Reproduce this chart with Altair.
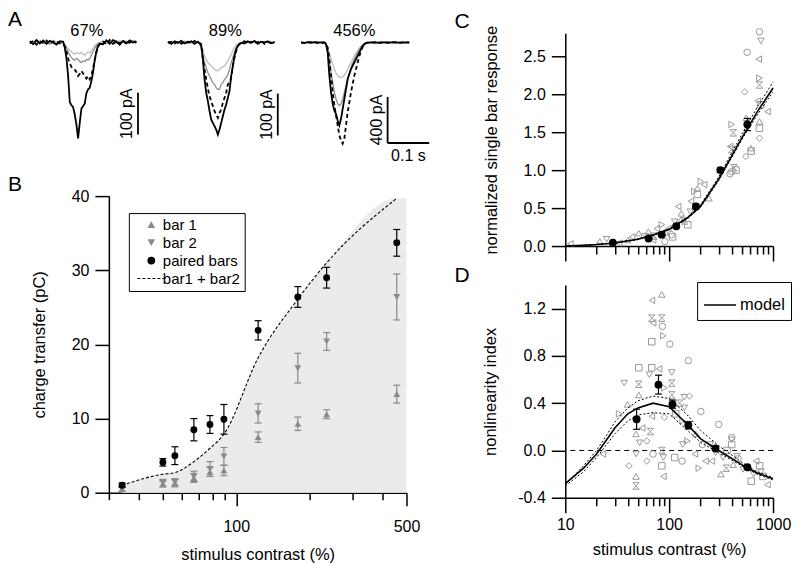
import altair as alt
import pandas as pd

FONT = "Liberation Sans"
LIGHT = "#bdbdbd"
MID = "#8f8f8f"
TRI = "#8a8a8a"
SCAT = "#9a9a9a"
FILLC = "#ebebeb"

# ================= Panel A : example traces (pA, inward negative) =================
A_labels = ["67%", "89%", "456%"]
A_bar_pA = [100, 100, 400]

A1_t = [0, 8, 16, 24, 32, 40, 48, 56, 64, 72, 80, 84, 88, 92, 96, 100, 104, 108, 112, 116, 120, 124,
        128, 132, 136, 140, 144, 148, 152, 156, 160, 164, 168, 176, 184, 192, 200, 208, 216, 224, 232,
        240, 248, 256]
A1_pair = [3, -4, 6, -2, 5, -3, 4, 0, -5, 3, 2, -12, -37, -79, -142, -150, -154, -172, -196, -229, -192,
           -158, -152, -146, -121, -112, -108, -92, -71, -42, -21, -8, -3, -4, 5, -3, 6, 2, -5, 4, -2, 5, 0, 3]
A1_sum = [-2, 4, -5, 3, -1, 5, -3, 2, 4, -2, -4, -8, -20, -38, -50, -58, -62, -65, -70, -80, -75, -68,
          -74, -80, -86, -80, -88, -78, -62, -42, -24, -10, -4, 2, -4, 6, -3, 3, -2, 5, -4, 1, 4, -1]
A1_bar1 = [1, 3, -2, 4, 0, -3, 2, 5, -1, 2, -2, -4, -10, -14, -18, -22, -26, -28, -24, -26, -27, -24,
           -28, -30, -26, -22, -25, -20, -14, -8, -4, -2, 0, 3, -2, 4, 1, -3, 5, 2, -1, 4, 0, 2]
A1_bar2 = [-1, 2, 4, -3, 2, 1, -4, 3, 0, -2, 3, -6, -14, -22, -30, -36, -40, -42, -38, -40, -45, -48,
           -44, -46, -40, -42, -38, -30, -22, -14, -8, -3, -1, -3, 3, 1, -4, 4, -1, 2, 3, -2, 5, 1]

A2_t = [0, 8, 16, 24, 32, 40, 48, 56, 64, 72, 76, 80, 84, 88, 92, 96, 100, 104, 108, 112, 116, 120, 124,
        128, 132, 136, 140, 144, 148, 152, 156, 160, 164, 168, 172, 176, 184, 192, 200, 208, 216, 224,
        232, 240, 248, 256]
A2_pair = [2, -3, 3, -1, 4, -2, 1, 3, -3, 2, -2, -8, -40, -88, -120, -140, -164, -184, -192, -200, -208,
           -220, -208, -192, -176, -160, -148, -132, -116, -80, -56, -32, -16, -8, -4, -1,
           -2, 3, -1, 4, -3, 2, 0, 3, -2, 1]
A2_sum = [-1, 2, -2, 3, -3, 1, 2, -2, 4, -1, -1, -4, -40, -64, -88, -110, -128, -140, -152, -164, -172,
          -180, -168, -160, -144, -132, -120, -100, -96, -84, -56, -36, -20, -8, -3, 0,
          3, -2, 2, -1, 1, 4, -3, 2, -1, 2]
A2_bar1 = [0, 2, -2, 1, 3, -1, 2, -2, 1, 0, 0, -8, -16, -32, -40, -48, -52, -56, -60, -64, -66, -68, -64,
           -60, -58, -56, -50, -44, -36, -28, -20, -12, -6, -3, -1, 0,
           1, -1, 2, 0, -2, 1, 3, -1, 0, 2]
A2_bar2 = [1, -2, 2, 0, -1, 3, -2, 1, 2, -1, -2, -12, -30, -48, -60, -72, -80, -88, -96, -100, -108, -112,
           -112, -100, -96, -88, -84, -76, -64, -48, -36, -24, -14, -8, -3, -1,
           -1, 2, 0, 3, -2, 1, -1, 2, 1, -2]

A3_t = [0, 8, 16, 24, 32, 40, 48, 56, 60, 64, 68, 72, 76, 80, 84, 88, 92, 96, 100, 104, 108, 112, 116,
        120, 124, 128, 132, 136, 140, 144, 148, 152, 156, 160, 164, 172, 180, 188, 196, 204, 212, 220,
        228, 236, 244, 252, 260]
A3_pair = [0, -4, 3, -2, 4, -3, 1, -2, -16, -95, -317, -476, -586, -650, -682, -745, -792, -729, -634,
           -539, -444, -349, -301, -254, -222, -190, -159, -127, -95, -63, -38, -16, -6, 0, 0,
           2, 0, -3, 1, 2, -1, 3, 0, -2, 1, 0, 2]
A3_sum = [2, -3, 0, 3, -2, 1, -3, 0, -6, -48, -159, -317, -476, -602, -697, -792, -888, -935, -967, -919,
          -792, -666, -571, -476, -396, -317, -254, -190, -133, -79, -41, -16, -6, 0, 0,
          0, 3, -1, 2, -2, 0, 1, 3, -1, 0, 2, -1]
A3_bar1 = [-2, 1, 3, -1, 0, 2, -1, 1, -6, -48, -95, -159, -206, -254, -292, -317, -333, -333, -327, -311,
           -285, -254, -222, -190, -159, -127, -101, -79, -57, -38, -22, -10, -3, 0, 0,
           1, -2, 2, 0, 1, -1, 0, 2, 1, -1, 0, 1]
A3_bar2 = [1, -2, 2, 0, -3, 1, 2, -1, -16, -79, -174, -285, -380, -476, -539, -586, -602, -586, -539,
           -476, -412, -349, -292, -238, -197, -159, -127, -95, -63, -41, -22, -10, -3, 0, 0,
           -1, 2, 0, -2, 1, 3, -1, 0, 2, -2, 1, 0]

# ================= Panel B : charge transfer =================
B_contrast = [34, 50, 56, 67, 78, 89, 123, 179, 235, 456]
B_pair = [1.0, 4.1, 5.0, 8.5, 9.2, 9.9, 21.9, 26.4, 29.0, 33.7]
B_pair_err = [0.3, 0.5, 1.2, 1.5, 1.2, 2.0, 1.3, 1.4, 1.4, 1.8]
B_bar1 = [0.5, 1.2, 1.3, 2.0, 2.8, 3.0, 7.5, 9.3, 10.6, 13.3]
B_bar1_err = [0.3, 0.4, 0.5, 0.6, 0.6, 0.7, 0.7, 0.9, 0.6, 1.2]
B_bar2 = [0.5, 1.3, 1.4, 2.2, 3.2, 4.9, 10.7, 16.8, 20.4, 26.4]
B_bar2_err = [0.3, 0.5, 0.5, 0.7, 1.0, 1.2, 1.3, 2.0, 1.2, 3.1]
B_series = ["bar 1", "bar 2", "paired bars", "bar1 + bar2"]
B_xticks = [30, 40, 50, 60, 70, 80, 90, 100, 200, 300, 400, 500]
B_yticks = [0, 10, 20, 30, 40]

# ================= Panel C : normalized single bar response =================
C_mean_x = [28.7, 63.4, 84.8, 117, 181, 311, 566]
C_mean_y = [0.044, 0.10, 0.15, 0.26, 0.52, 1.00, 1.60]
C_mean_err = [0.01, 0.015, 0.02, 0.02, 0.03, 0.03, 0.08]
C_fit_x = [10, 15, 20, 30, 50, 70, 100, 150, 200, 300, 500, 700, 1000]
C_fit = [0.0, 0.01, 0.02, 0.04, 0.09, 0.145, 0.22, 0.37, 0.52, 0.88, 1.42, 1.76, 2.08]
C_fit_hi = [0.0, 0.01, 0.02, 0.045, 0.095, 0.15, 0.23, 0.38, 0.54, 0.91, 1.47, 1.82, 2.16]
C_fit_lo = [0.0, 0.01, 0.02, 0.04, 0.085, 0.14, 0.215, 0.36, 0.51, 0.86, 1.40, 1.72, 2.03]
C_cell_x = [740, 766, 563, 729, 740, 740, 534, 714, 760, 885, 740, 740, 740, 400, 415, 553, 386, 400, 612,
            616, 546, 400, 440, 420, 385, 187, 217, 175, 242, 162, 187, 202, 122, 131, 113, 151, 141, 98,
            105, 85, 108, 51, 44, 63, 71, 76, 59, 40, 21.5, 25, 33, 91, 11.2, 160, 130, 92, 70]
C_cell_y = [2.82, 2.70, 2.55, 2.46, 2.21, 2.12, 2.03, 1.91, 1.86, 1.77, 1.64, 1.55, 1.42, 1.60, 1.49, 1.69,
            1.31, 1.27, 1.29, 1.25, 1.18, 0.98, 1.00, 1.03, 0.95, 0.76, 0.81, 0.72, 0.63, 0.59, 0.68, 0.85,
            0.52, 0.43, 0.32, 0.28, 0.33, 0.23, 0.15, 0.28, 0.12, 0.17, 0.12, 0.19, 0.13, 0.23, 0.13, 0.08,
            0.06, 0.09, 0.04, 0.06, 0.03, 0.45, 0.35, 0.18, 0.08]
C_cell_id = [1, 4, 1, 5, 6, 8, 7, 5, 2, 5, 3, 2, 7, 6, 8, 3, 5, 8, 3, 2, 7, 1, 2, 8, 1, 3, 5, 6, 3, 5, 2, 6,
             5, 3, 4, 2, 8, 5, 1, 6, 2, 3, 5, 3, 8, 5, 4, 3, 3, 4, 5, 1, 5, 4, 3, 3, 5]

# ================= Panel D : nonlinearity index =================
D_mean_x = [48.6, 78.9, 107.6, 153, 279, 566]
D_mean_y = [0.264, 0.557, 0.392, 0.213, 0.017, -0.142]
D_mean_err = [0.085, 0.08, 0.035, 0.03, 0.015, 0.015]
D_fit_x = [10, 15, 20, 25, 30, 40, 50, 70, 100, 150, 200, 300, 500, 700, 1000]
D_fit = [-0.28, -0.15, -0.03, 0.09, 0.19, 0.31, 0.36, 0.40, 0.37, 0.22, 0.10, 0.0, -0.12, -0.19, -0.24]
D_fit_hi = [-0.29, -0.13, 0.0, 0.13, 0.24, 0.36, 0.42, 0.46, 0.44, 0.30, 0.17, 0.04, -0.10, -0.18, -0.23]
D_fit_lo = [-0.30, -0.18, -0.06, 0.05, 0.14, 0.25, 0.30, 0.32, 0.31, 0.17, 0.07, -0.02, -0.13, -0.20, -0.25]
D_cell_x = [84.8, 68.2, 68, 84.8, 70, 86, 88, 101.6, 68, 153, 51, 68, 80, 64.5, 106, 36.9, 51, 106, 51, 90,
            106, 140, 157, 126, 140, 39.7, 33, 68, 90, 116, 202, 55, 66, 48, 135, 135, 181, 150, 209, 300,
            400, 400, 52, 61, 48, 85, 88, 70, 41, 48, 61, 85, 88, 113, 133, 193, 177, 224, 258, 330,
            355, 315, 414, 400, 462, 574, 617, 766, 885, 687, 48, 23, 515, 743, 250, 280, 360, 450, 650, 800]
D_cell_y = [1.32, 1.27, 1.12, 1.12, 1.08, 1.05, 0.97, 0.90, 0.92, 0.76, 0.70, 0.70, 0.69, 0.64, 0.66, 0.57,
            0.56, 0.57, 0.47, 0.53, 0.47, 0.45, 0.46, 0.40, 0.36, 0.39, 0.31, 0.29, 0.28, 0.31, 0.33, 0.19,
            0.16, 0.14, 0.25, 0.05, 0.14, 0.08, 0.05, 0.22, 0.11, 0.05, 0.065, 0.08, -0.03, 0.0, -0.06, -0.03,
            -0.13, -0.22, -0.09, -0.13, -0.22, -0.06, -0.09, -0.15, -0.03, -0.09, -0.09, -0.06, -0.15, -0.20,
            -0.12, 0.09, -0.07, -0.15, -0.26, -0.18, -0.29, -0.09, -0.30, -0.03, -0.16, -0.13, 0.05, -0.02,
            0.0, -0.05, -0.20, -0.22]
D_cell_id = [3, 5, 8, 8, 5, 1, 6, 1, 2, 1, 2, 2, 5, 4, 4, 4, 8, 8, 3, 6, 8, 4, 7, 8, 4, 3, 6, 5, 7, 2, 1, 5,
             8, 3, 6, 4, 3, 6, 1, 1, 1, 2, 4, 7, 4, 8, 4, 1, 7, 3, 7, 2, 5, 2, 1, 6, 5, 5, 5, 4, 8, 3, 3, 4,
             1, 7, 2, 4, 5, 5, 8, 5, 4, 2, 4, 4, 2, 4, 4, 2]
CD_xticks = [10, 20, 30, 40, 50, 60, 70, 80, 90, 100, 200, 300, 400, 500, 600, 700, 800, 900, 1000]

CELL_IDS = [1, 2, 3, 4, 5, 6, 7, 8]
CELL_SHAPES = ["circle", "square", "triangle-up", "triangle-down", "triangle-left", "triangle-right",
               "diamond", "M-1,-1L1,-1L-1,1L1,1Z"]
# legend glyph for the dashed "bar1 + bar2" entry (dash pieces as filled bars)
DASH_GLYPH = ("M-3.6,-0.13H-2.83V0.13H-3.6Z M-2.31,-0.13H-1.54V0.13H-2.31Z M-1.02,-0.13H-0.25V0.13H-1.02Z "
              "M0.27,-0.13H1.04V0.13H0.27Z M1.56,-0.13H2.33V0.13H1.56Z M2.85,-0.13H3.6V0.13H2.85Z")
HYPHEN_1F = "datum.value < 0 ? '-' + format(-datum.value, '.1f') : format(datum.value, '.1f')"


def letter(txt, dx, offset):
    return alt.TitleParams(txt, anchor="start", frame="group", dx=dx, offset=offset, fontSize=21,
                           font=FONT, fontWeight="normal", color="black")


# ---------------- build A ----------------
def build_A():
    offs = [0, 332, 652]
    groups = [(A1_t, A1_bar1, A1_bar2, A1_sum, A1_pair),
              (A2_t, A2_bar1, A2_bar2, A2_sum, A2_pair),
              (A3_t, A3_bar1, A3_bar2, A3_sum, A3_pair)]
    rows = []
    for g, (t, b1, b2, s, p) in enumerate(groups):
        k = 100.0 / A_bar_pA[g]
        for name, vals in (("bar 1", b1), ("bar 2", b2), ("sum", s), ("paired", p)):
            for ti, v in zip(t, vals):
                rows.append({"g": g, "trace": name, "t": ti + offs[g], "I": v * k})
    df = pd.DataFrame(rows)
    # the plot frame starts where panel B's frame starts; the first traces run to its left
    X = alt.X("t:Q", scale=alt.Scale(domain=[190, 963], nice=False, zero=False), axis=None)
    Y = alt.Y("I:Q", scale=alt.Scale(domain=[-250, 22], nice=False, zero=False), axis=None)
    layers = []
    for name, col, w, dash in (("bar 1", LIGHT, 1.3, [1, 0]), ("bar 2", MID, 1.3, [1, 0]),
                               ("sum", "black", 1.8, [4, 3]), ("paired", "black", 1.8, [1, 0])):
        layers.append(alt.Chart(df).transform_filter(alt.datum.trace == name)
                      .mark_line(color=col, strokeWidth=w, strokeDash=dash)
                      .encode(x=X, y=Y, detail="g:N"))
    bars = pd.DataFrame({"t": [offs[0] + 260, offs[1] + 264, offs[2] + 208],
                         "I": [-120, -122, -130], "I2": [-220, -222, -240],
                         "lab": [f"{v} pA" for v in A_bar_pA]})
    bars["Im"] = (bars["I"] + bars["I2"]) / 2
    layers.append(alt.Chart(bars).mark_rule(color="black", strokeWidth=1.8)
                  .encode(x=X, y=Y, y2="I2:Q"))
    layers.append(alt.Chart(bars).mark_text(angle=270, baseline="bottom", dy=-3, fontSize=16, font=FONT)
                  .encode(x=X, y=alt.Y("Im:Q", axis=None), text="lab:N"))
    hb = pd.DataFrame({"t": [offs[2] + 208], "t2": [offs[2] + 308], "I": [-240], "tm": [offs[2] + 258],
                       "lab": ["0.1 s"]})
    layers.append(alt.Chart(hb).mark_rule(color="black", strokeWidth=1.8).encode(x=X, x2="t2:Q", y=Y))
    layers.append(alt.Chart(hb).mark_text(baseline="top", dy=5, fontSize=16, font=FONT)
                  .encode(x=alt.X("tm:Q", axis=None), y=Y, text="lab:N"))
    lab = pd.DataFrame({"t": [offs[0] + 137, offs[1] + 138, offs[2] + 128], "I": [27, 27, 27],
                        "lab": A_labels})
    layers.append(alt.Chart(lab).mark_text(baseline="middle", fontSize=16.5, font=FONT)
                  .encode(x=X, y=Y, text="lab:N"))
    return alt.layer(*layers).properties(width=322, height=114, title=letter("A", -101, -7))


# ---------------- build B ----------------
def build_B():
    n = len(B_contrast)
    pts = pd.DataFrame({"x": B_contrast * 3, "y": B_bar1 + B_bar2 + B_pair,
                        "err": B_bar1_err + B_bar2_err + B_pair_err,
                        "series": ["bar 1"] * n + ["bar 2"] * n + ["paired bars"] * n})
    sums = [a + b for a, b in zip(B_bar1, B_bar2)]
    line = pd.DataFrame({"x": B_contrast, "y": sums})
    area = pd.DataFrame({"x": B_contrast + [B_xticks[-1]], "y": sums + [sums[-1]]})
    err = pd.DataFrame({"x": pts["x"], "y": pts["y"] - pts["err"], "y2": pts["y"] + pts["err"],
                        "series": pts["series"]})
    caps = pd.concat([pd.DataFrame({"x": err["x"], "y": err["y"], "series": err["series"]}),
                      pd.DataFrame({"x": err["x"], "y": err["y2"], "series": err["series"]})],
                     ignore_index=True)

    X = alt.X("x:Q", scale=alt.Scale(type="log", domain=[30, 500], nice=False),
              axis=alt.Axis(values=B_xticks, title="stimulus contrast (%)", format="d",
                            labelExpr="(datum.value == 100 || datum.value == 500) ? datum.label : ''",
                            tickSize={"condition": {"test": "datum.value == 100 || datum.value == 500",
                                                    "value": 13}, "value": 7},
                            labelPadding=13, labelFlush=False, titleY=62, titleBaseline="middle"))
    Y = alt.Y("y:Q", scale=alt.Scale(domain=[0, 40], nice=False),
              axis=alt.Axis(values=B_yticks, title="charge transfer (pC)", tickSize=14, labelPadding=6,
                            titleX=-69, titleBaseline="middle", titleAngle=270))
    leg = alt.Legend(title=None, orient="none", legendX=20, legendY=17, strokeColor="black",
                     fillColor="white", padding=4, labelFontSize=15, symbolSize=60,
                     labelOffset=4, symbolOffset=11, rowPadding=2, labelFont=FONT)
    shp = alt.Scale(domain=B_series, range=["triangle-up", "triangle-down", "circle", DASH_GLYPH])
    col = alt.Scale(domain=B_series, range=[TRI, TRI, "black", "black"])

    l_area = alt.Chart(area).mark_area(color=FILLC, opacity=1, interpolate="monotone").encode(x=X, y=Y)
    l_line = alt.Chart(line).mark_line(color="black", strokeWidth=1.1, strokeDash=[3, 2],
                                       interpolate="monotone").encode(x=X, y=Y)
    l_eg = alt.Chart(err).transform_filter(alt.datum.series != "paired bars").mark_rule(
        color=TRI, strokeWidth=1.2).encode(x=X, y=Y, y2="y2:Q")
    l_cg = alt.Chart(caps).transform_filter(alt.datum.series != "paired bars").mark_tick(
        color=TRI, orient="horizontal", size=7, thickness=1.2, opacity=1).encode(x=X, y=Y)
    l_eb = alt.Chart(err).transform_filter(alt.datum.series == "paired bars").mark_rule(
        color="black", strokeWidth=1.2).encode(x=X, y=Y, y2="y2:Q")
    l_cb = alt.Chart(caps).transform_filter(alt.datum.series == "paired bars").mark_tick(
        color="black", orient="horizontal", size=7, thickness=1.2, opacity=1).encode(x=X, y=Y)
    l_pts = alt.Chart(pts).mark_point(filled=True, size=48, opacity=1).encode(
        x=X, y=Y,
        color=alt.Color("series:N", scale=col, legend=leg),
        shape=alt.Shape("series:N", scale=shp, legend=leg))
    return alt.layer(l_area, l_line, l_eg, l_cg, l_eb, l_cb, l_pts).properties(
        width=298, height=297, title=letter("B", -101, -7))


def cd_x(labels):
    ax = dict(values=CD_xticks, format="d", labelFlush=False,
              tickSize={"condition": {"test": "datum.value == 10 || datum.value == 100 || datum.value == 1000",
                                      "value": 15}, "value": 8})
    if labels:
        ax.update(title="stimulus contrast (%)",
                  labelExpr="(datum.value == 10 || datum.value == 100 || datum.value == 1000) ? datum.label : ''",
                  labelPadding=4, titleY=52, titleBaseline="middle")
    else:
        ax.update(title=None, labels=False)
    return alt.X("x:Q", scale=alt.Scale(type="log", domain=[10, 1000], nice=False), axis=alt.Axis(**ax))


def cd_layers(X, Y, cx, cy, cid, fx, f, fhi, flo, mx, my, me, model_legend=None):
    cells = pd.DataFrame({"x": cx, "y": cy, "cell": cid})
    fit = pd.DataFrame({"x": fx, "y": f, "series": ["model"] * len(fx)})
    hi = pd.DataFrame({"x": fx, "y": fhi})
    lo = pd.DataFrame({"x": fx, "y": flo})
    mean = pd.DataFrame({"x": mx, "y": my})
    err = pd.DataFrame({"x": mx, "y": [a - b for a, b in zip(my, me)], "y2": [a + b for a, b in zip(my, me)]})
    caps = pd.concat([pd.DataFrame({"x": mx, "y": err["y"]}), pd.DataFrame({"x": mx, "y": err["y2"]})],
                     ignore_index=True)
    out = [
        alt.Chart(cells).mark_point(filled=False, size=42, strokeWidth=1, color=SCAT, opacity=1).encode(
            x=X, y=Y, shape=alt.Shape("cell:N", scale=alt.Scale(domain=CELL_IDS, range=CELL_SHAPES), legend=None)),
        alt.Chart(hi).mark_line(color="black", strokeWidth=1, strokeDash=[2, 2]).encode(x=X, y=Y),
        alt.Chart(lo).mark_line(color="black", strokeWidth=1, strokeDash=[2, 2]).encode(x=X, y=Y),
    ]
    if model_legend is not None:
        out.append(alt.Chart(fit).mark_line(strokeWidth=1.6).encode(
            x=X, y=Y, color=alt.Color("series:N", scale=alt.Scale(domain=["model"], range=["black"]),
                                      legend=model_legend)))
    else:
        out.append(alt.Chart(fit).mark_line(color="black", strokeWidth=1.6).encode(x=X, y=Y))
    out += [
        alt.Chart(err).mark_rule(color="black", strokeWidth=1.2).encode(x=X, y=Y, y2="y2:Q"),
        alt.Chart(caps).mark_tick(color="black", orient="horizontal", size=7, thickness=1.2, opacity=1).encode(x=X, y=Y),
        alt.Chart(mean).mark_point(filled=True, size=62, color="black", opacity=1).encode(x=X, y=Y),
    ]
    return out


def build_C():
    X = cd_x(False)
    Y = alt.Y("y:Q", scale=alt.Scale(domain=[0, 2.8], nice=False),
              axis=alt.Axis(values=[0, 0.5, 1.0, 1.5, 2.0, 2.5], format=".1f", tickSize=14, labelPadding=6,
                            title="normalized single bar response", titleX=-74, titleBaseline="middle",
                            titleAngle=270))
    layers = cd_layers(X, Y, C_cell_x, C_cell_y, C_cell_id, C_fit_x, C_fit, C_fit_hi, C_fit_lo,
                       C_mean_x, C_mean_y, C_mean_err)
    return alt.layer(*layers).properties(width=208, height=213, title=letter("C", -111, -7))


def build_D():
    X = cd_x(True)
    Y = alt.Y("y:Q", scale=alt.Scale(domain=[-0.4, 1.4], nice=False),
              axis=alt.Axis(values=[-0.4, 0.0, 0.4, 0.8, 1.2], labelExpr=HYPHEN_1F, tickSize=14,
                            labelPadding=6, title="nonlinearity index", titleX=-75, titleBaseline="middle",
                            titleAngle=270))
    leg = alt.Legend(title=None, orient="none", legendX=132, legendY=-3, strokeColor="black",
                     fillColor="white", padding=6, symbolType="stroke", symbolSize=1024,
                     symbolStrokeWidth=1.6, labelFontSize=16.5, labelOffset=3, labelFont=FONT)
    zero = alt.Chart(pd.DataFrame({"y": [0.0]})).mark_rule(color="black", strokeWidth=1,
                                                           strokeDash=[5, 4]).encode(y=Y)
    layers = cd_layers(X, Y, D_cell_x, D_cell_y, D_cell_id, D_fit_x, D_fit, D_fit_hi, D_fit_lo,
                       D_mean_x, D_mean_y, D_mean_err, model_legend=leg)
    return alt.layer(zero, *layers).properties(width=208, height=213, title=letter("D", -111, -4))


def indep(c):
    return c.resolve_scale(color="independent", shape="independent").resolve_legend(
        color="independent", shape="independent")


left = indep(alt.vconcat(build_A(), build_B(), spacing=10))
right = indep(alt.vconcat(build_C(), build_D(), spacing=2))
chart = indep(alt.hconcat(left, right, spacing=24)).properties(padding=0).configure(font=FONT).configure_view(
    stroke=None).configure_axis(
    grid=False, domainColor="black", tickColor="black", labelColor="black", titleColor="black",
    domainWidth=1.5, tickWidth=1.5, labelFontSize=16, titleFontSize=16.5, titleFontWeight="normal",
    labelFont=FONT, titleFont=FONT, labelOverlap=False).configure_title(font=FONT, fontWeight="normal",
                                                                         color="black")

chart.save("out.html", embed_options={"renderer": "svg", "actions": False})
